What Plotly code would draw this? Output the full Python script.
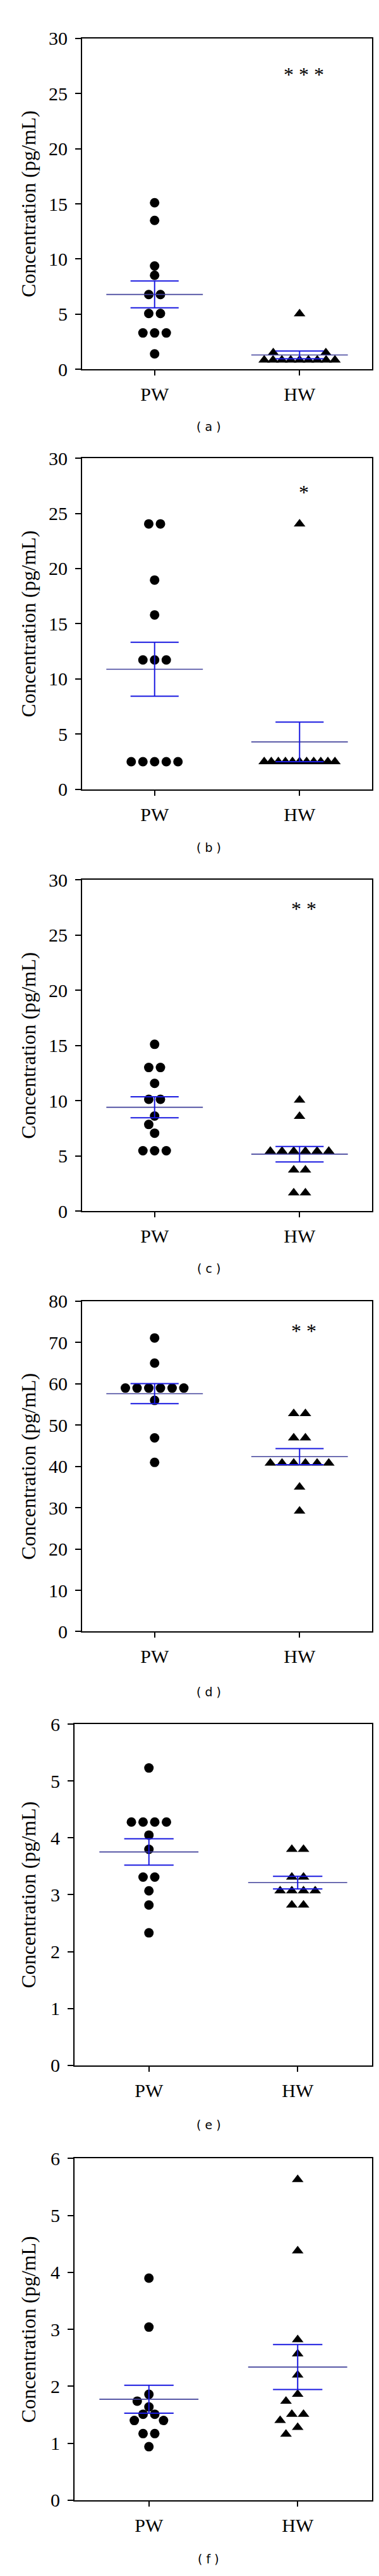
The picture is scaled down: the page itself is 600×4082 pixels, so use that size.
import numpy as np
import plotly.graph_objects as go
from collections import Counter

# ---------------- data ----------------
categories = ["PW", "HW"]
panel_labels = ["( a )", "( b )", "( c )", "( d )", "( e )", "( f )"]
significance = ["* * *", "*", "* *", "* *", "", ""]
significance_y = [27.1, 27.3, 27.8, 73.9, None, None]
y_max = [30, 30, 30, 80, 6, 6]
y_dtick = [5, 5, 5, 10, 1, 1]
y_title = "Concentration (pg/mL)"

a_pw = [15.1, 13.5, 9.37, 8.52, 6.78, 6.78, 5.06, 5.06, 3.3, 3.3, 3.3, 1.4]
a_hw = [5.04, 1.5, 1.5, 0.85, 0.85, 0.85, 0.85, 0.85, 0.85, 0.85, 0.85, 0.85]
b_pw = [24.05, 24.05, 18.96, 15.8, 11.72, 11.72, 11.72, 2.5, 2.5, 2.5, 2.5, 2.5]
b_hw = [24.05, 2.5, 2.5, 2.5, 2.5, 2.5, 2.5, 2.5, 2.5, 2.5, 2.5, 2.5]
c_pw = [15.11, 13.01, 13.01, 11.57, 10.13, 10.13, 8.61, 7.85, 7.06, 5.47, 5.47, 5.47]
c_hw = [10.05, 8.58, 5.42, 5.42, 5.42, 5.42, 5.42, 5.42, 3.72, 3.72, 1.65, 1.65]
d_pw = [71.1, 65.0, 58.96, 58.96, 58.96, 58.96, 58.96, 58.96, 55.98, 46.9, 40.97]
d_hw = [52.8, 52.8, 46.9, 46.9, 40.8, 40.8, 40.8, 40.8, 40.8, 40.8, 35.0, 29.2]
e_pw = [5.23, 4.28, 4.28, 4.28, 4.28, 4.05, 3.80, 3.31, 3.31, 3.07, 2.82, 2.33]
e_hw = [3.80, 3.80, 3.31, 3.31, 3.07, 3.07, 3.07, 3.07, 2.82, 2.82]
f_pw = [3.9, 3.04, 1.86, 1.74, 1.64, 1.51, 1.51, 1.40, 1.40, 1.17, 1.17, 0.94]
f_hw = [5.63, 4.38, 2.82, 2.57, 2.2, 1.86, 1.74, 1.51, 1.51, 1.40, 1.28, 1.16]

pw_series = [a_pw, b_pw, c_pw, d_pw, e_pw, f_pw]
hw_series = [a_hw, b_hw, c_hw, d_hw, e_hw, f_hw]

# ---------------- layout geometry (pixels) ----------------
W, H = 600, 4082
# (top, bottom, left, right) of each plot area
boxes = [
    (36, 565, 122, 581),
    (707, 1236, 122, 581),
    (1381, 1910, 122, 581),
    (2054, 2582, 122, 581),
    (2730, 3275, 110, 581),
    (3424, 3970, 110, 581),
]
label_y_px = [656, 1329, 2002, 2678, 3370, 4064]

SERIF = "Liberation Serif"
MEAN_COLOR = "#40409a"
SEM_COLOR = "#1a1ae0"


def swarm(vals, ppu_y, step=18.5, max_half=56.0, thresh=14.5):
    """Simple beeswarm: returns list of (value, x offset in px)."""
    cnt = Counter(round(v, 3) for v in vals)
    groups = sorted(cnt.items(), key=lambda kv: (-kv[1], -kv[0]))
    placed = []
    h = step / 2.0
    for v, n in groups:
        y = v * ppu_y
        if n == 1:
            cands = [[k * h] for k in (0, -1, 1, -2, 2, -3, 3, -4, 4, -5, 5, -6, 6)]
        else:
            st = min(step, 2 * max_half / (n - 1))
            cands = []
            for k in range(0, 8):
                sp = st * (1 + 0.5 * k)
                cands.append([(i - (n - 1) / 2.0) * sp for i in range(n)])
        chosen = cands[-1]
        for c in cands:
            ok = True
            for xo in c:
                for (px, py, _) in placed:
                    if np.hypot(px - xo, py - y) < thresh:
                        ok = False
                        break
                if not ok:
                    break
            if ok:
                chosen = c
                break
        for xo in chosen:
            placed.append((xo, y, v))
    return [(p[2], p[0]) for p in placed]


fig = go.Figure()
annotations = []

for i in range(6):
    top, bottom, left, right = boxes[i]
    ax = "" if i == 0 else str(i + 1)
    xref = "x" + ax
    yref = "y" + ax
    ppu_x = (right - left) / 2.0
    ppu_y = (bottom - top) / y_max[i]

    for ci, (vals, sym, size) in enumerate(
        [(pw_series[i], "circle", 15), (hw_series[i], "triangle-up", 16)]
    ):
        pts = swarm(vals, ppu_y)
        xs = [ci + xo / ppu_x for (_, xo) in pts]
        ys = [v for (v, _) in pts]
        fig.add_trace(go.Scatter(
            x=xs, y=ys, mode="markers", xaxis=xref, yaxis=yref,
            marker=dict(symbol=sym, size=size, color="black", line=dict(width=0)),
            showlegend=False, hoverinfo="y",
        ))

    for ci, vals in enumerate([pw_series[i], hw_series[i]]):
        arr = np.array(vals, dtype=float)
        m = arr.mean()
        sem = arr.std(ddof=1) / np.sqrt(len(arr))
        # mean line
        fig.add_trace(go.Scatter(
            x=[ci - 0.333, ci + 0.333], y=[m, m], mode="lines",
            xaxis=xref, yaxis=yref, line=dict(color=MEAN_COLOR, width=1.6),
            showlegend=False, hoverinfo="skip",
        ))
        # SEM bars
        fig.add_trace(go.Scatter(
            x=[ci - 0.166, ci + 0.166, None, ci - 0.166, ci + 0.166, None, ci, ci],
            y=[m + sem, m + sem, None, m - sem, m - sem, None, m - sem, m + sem],
            mode="lines", xaxis=xref, yaxis=yref,
            line=dict(color=SEM_COLOR, width=2),
            showlegend=False, hoverinfo="skip",
        ))

    xdom = [left / W, right / W]
    ydom = [1 - bottom / H, 1 - top / H]
    fig.update_layout({
        "xaxis" + ax: dict(
            domain=xdom, anchor=yref, range=[-0.5, 1.5],
            tickvals=[0, 1], ticktext=categories,
            ticks="outside", ticklen=8, tickwidth=1.5, tickcolor="black",
            showline=True, linecolor="black", linewidth=2, mirror=True,
            showgrid=False, zeroline=False,
            tickfont=dict(family=SERIF, size=30, color="black"),
            ticklabelstandoff=4,
        ),
        "yaxis" + ax: dict(
            domain=ydom, anchor=xref, range=[0, y_max[i]], dtick=y_dtick[i],
            tick0=0,
            ticks="outside", ticklen=9, tickwidth=1.5, tickcolor="black",
            showline=True, linecolor="black", linewidth=2, mirror=True,
            showgrid=False, zeroline=False,
            tickfont=dict(family=SERIF, size=30, color="black"),
            ticklabelstandoff=6,
        ),
    })

    # y-axis title
    annotations.append(dict(
        x=37 / W, y=1 - (top + bottom) / 2 / H, xref="paper", yref="paper",
        text=y_title, textangle=-90, showarrow=False,
        xanchor="center", yanchor="middle",
        font=dict(family=SERIF, size=32, color="black"),
    ))
    # panel label
    annotations.append(dict(
        x=322 / W, y=1 - label_y_px[i] / H, xref="paper", yref="paper",
        text=panel_labels[i], showarrow=False, xanchor="center", yanchor="middle",
        font=dict(family="DejaVu Sans", size=19, color="black"),
    ))
    # significance marks
    if significance[i]:
        annotations.append(dict(
            x=1.03, y=significance_y[i], xref=xref, yref=yref,
            text=significance[i], showarrow=False, xanchor="center", yanchor="middle",
            yshift=-7,
            font=dict(family=SERIF, size=32, color="black"),
        ))

fig.update_layout(
    width=W, height=H,
    margin=dict(l=0, r=0, t=0, b=0),
    paper_bgcolor="white", plot_bgcolor="white",
    showlegend=False,
    annotations=annotations,
)

fig.write_html("out.html")
